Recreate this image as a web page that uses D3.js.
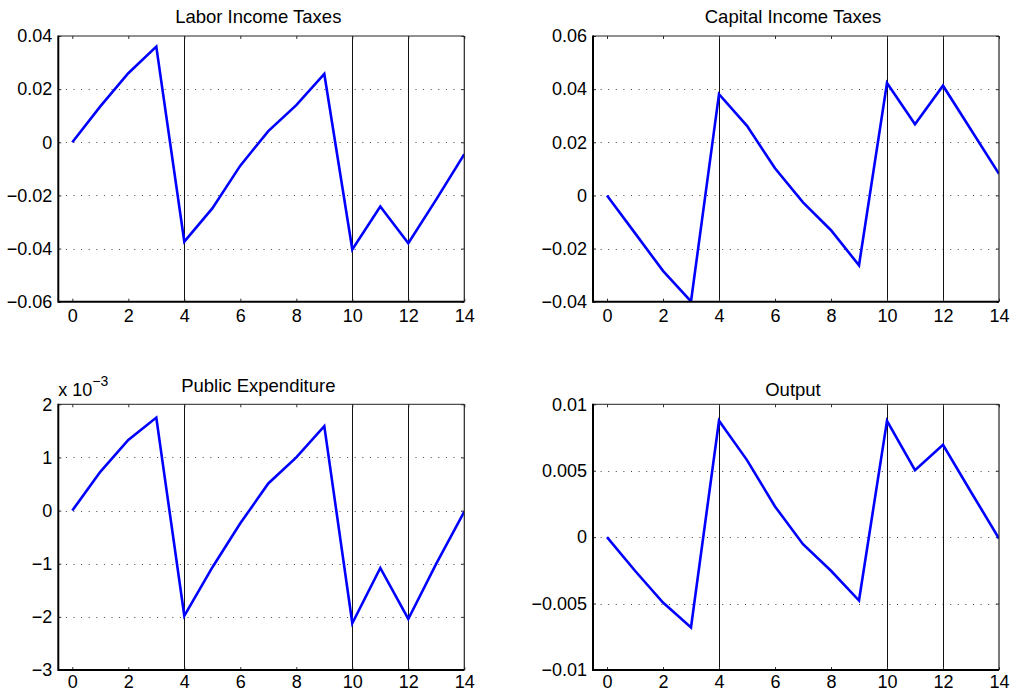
<!DOCTYPE html>
<html>
<head>
<meta charset="utf-8">
<script src="https://cdn.jsdelivr.net/npm/d3@7"></script>
<style>
  html, body { margin: 0; padding: 0; background: #fff; }
  svg { display: block; font-family: "Liberation Sans", Arial, Helvetica, sans-serif; }
</style>
</head>
<body>
<svg id="chart" width="1011" height="692"></svg>
<script>
// Periods on the horizontal axis
const periods = [0, 1, 2, 3, 4, 5, 6, 7, 8, 9, 10, 11, 12, 13, 14];

// Impulse responses, one array per panel
const laborIncomeTaxes = [0, 0.0135, 0.026, 0.036, -0.0374, -0.0249, -0.0088, 0.0042, 0.014, 0.0257, -0.0403, -0.0242, -0.038, -0.0215, -0.0045];
const capitalIncomeTaxes = [0, -0.0142, -0.0284, -0.0399, 0.0381, 0.0262, 0.0102, -0.0026, -0.0131, -0.0263, 0.0423, 0.0268, 0.0413, 0.0247, 0.0081];
const publicExpenditure = [0, 0.00073, 0.00133, 0.00175, -0.00198, -0.00107, -0.00024, 0.00051, 0.001, 0.00159, -0.00212, -0.00108, -0.00204, -0.001, -0.00002];
const output = [0, -0.00253, -0.00492, -0.0068, 0.00876, 0.0058, 0.00231, -0.00053, -0.00253, -0.00477, 0.00876, 0.00504, 0.00695, 0.0034, -0.0001];

// Shock dates marked with vertical lines
const shockPeriods = [4, 10, 12];

// Tick values
const xTicks = [0, 2, 4, 6, 8, 10, 12, 14];
const laborTicks = [-0.06, -0.04, -0.02, 0, 0.02, 0.04];
const capitalTicks = [-0.04, -0.02, 0, 0.02, 0.04, 0.06];
const publicTicks = [-0.003, -0.002, -0.001, 0, 0.001, 0.002];
const outputTicks = [-0.01, -0.005, 0, 0.005, 0.01];

const minus = s => s.replace("-", "\u2212");
const fmt2 = d => d === 0 ? "0" : minus(d3.format(".2f")(d));

const panels = [
  { title: "Labor Income Taxes", values: laborIncomeTaxes, ticks: laborTicks, fmt: fmt2,
    box: { x0: 58.3, x1: 464.3, y0: 36, y1: 301.7 }, titleY: 23, xPad: 7.5 },
  { title: "Capital Income Taxes", values: capitalIncomeTaxes, ticks: capitalTicks, fmt: fmt2,
    box: { x0: 593, x1: 999, y0: 36, y1: 301.7 }, titleY: 23, xPad: 7.5 },
  { title: "Public Expenditure", values: publicExpenditure, ticks: publicTicks,
    fmt: d => minus(d3.format("d")(Math.round(d / 1e-3))),
    exponent: "\u22123",
    box: { x0: 58.3, x1: 464.3, y0: 404.3, y1: 670 }, titleY: 392, xPad: 5.5 },
  { title: "Output", values: output, ticks: outputTicks,
    fmt: d => d === 0 ? "0" : minus(d3.format(".3~f")(d)),
    box: { x0: 593, x1: 999, y0: 404.3, y1: 670 }, titleY: 396, xPad: 5.5 }
];

const svg = d3.select("#chart");

panels.forEach((p, i) => {
  const b = p.box;
  const x = d3.scaleLinear().domain([-0.5, 14]).range([b.x0, b.x1]);
  const y = d3.scaleLinear().domain(d3.extent(p.ticks)).range([b.y1, b.y0]);
  const g = svg.append("g");

  // Clip region for the data line
  const clipId = "clip" + i;
  svg.append("clipPath").attr("id", clipId)
    .append("rect").attr("x", b.x0).attr("y", b.y0)
    .attr("width", b.x1 - b.x0).attr("height", b.y1 - b.y0);

  // Dotted horizontal grid
  g.selectAll(".grid").data(p.ticks.slice(1, -1)).join("line")
    .attr("x1", b.x0).attr("x2", b.x1)
    .attr("y1", d => Math.round(y(d)) + 0.5).attr("y2", d => Math.round(y(d)) + 0.5)
    .attr("stroke", "#444").attr("stroke-width", 1)
    .attr("stroke-dasharray", "1,6.6");

  // Shock markers
  g.selectAll(".shock").data(shockPeriods).join("line")
    .attr("x1", d => Math.round(x(d)) + 0.5).attr("x2", d => Math.round(x(d)) + 0.5)
    .attr("y1", b.y0).attr("y2", b.y1)
    .attr("stroke", "#111").attr("stroke-width", 1);

  // Bottom axis with inward ticks
  const xAxis = d3.axisBottom(x).tickValues(xTicks).tickSize(-3).tickPadding(p.xPad)
    .tickFormat(d3.format("d"));
  const gx = g.append("g").attr("transform", `translate(0,${b.y1})`).call(xAxis);
  gx.select(".domain").remove();
  gx.selectAll(".tick line").attr("stroke", "#333");
  gx.selectAll("text").attr("font-size", 18).attr("fill", "#000")
    .attr("font-family", "Liberation Sans, Arial, sans-serif");

  // Top inward ticks
  const gxt = g.append("g").attr("transform", `translate(0,${b.y0})`)
    .call(d3.axisTop(x).tickValues(xTicks).tickSize(-3).tickFormat(""));
  gxt.select(".domain").remove();
  gxt.selectAll(".tick line").attr("stroke", "#333");

  // Left axis with inward ticks
  const yAxis = d3.axisLeft(y).tickValues(p.ticks).tickSize(-3).tickPadding(6)
    .tickFormat(p.fmt);
  const gy = g.append("g").attr("transform", `translate(${b.x0},0)`).call(yAxis);
  gy.select(".domain").remove();
  gy.selectAll(".tick line").attr("stroke", "#333");
  gy.selectAll("text").attr("font-size", 18).attr("fill", "#000")
    .attr("font-family", "Liberation Sans, Arial, sans-serif");

  // Right inward ticks
  const gyr = g.append("g").attr("transform", `translate(${b.x1},0)`)
    .call(d3.axisRight(y).tickValues(p.ticks).tickSize(-3).tickFormat(""));
  gyr.select(".domain").remove();
  gyr.selectAll(".tick line").attr("stroke", "#333");

  // Data line
  const line = d3.line().x((d, k) => x(periods[k])).y(d => y(d));
  g.append("path").datum(p.values)
    .attr("clip-path", `url(#${clipId})`)
    .attr("d", line)
    .attr("fill", "none").attr("stroke", "#0000ff")
    .attr("stroke-width", 2.6).attr("stroke-linejoin", "miter");

  // Axes box: heavier left and bottom edges
  g.append("line").attr("x1", b.x0).attr("x2", b.x1).attr("y1", b.y0).attr("y2", b.y0)
    .attr("stroke", "#222").attr("stroke-width", 1);
  g.append("line").attr("x1", b.x1).attr("x2", b.x1).attr("y1", b.y0).attr("y2", b.y1)
    .attr("stroke", "#222").attr("stroke-width", 1.2);
  g.append("line").attr("x1", b.x0).attr("x2", b.x0).attr("y1", b.y0 - 0.5).attr("y2", b.y1 + 1)
    .attr("stroke", "#000").attr("stroke-width", 2);
  g.append("line").attr("x1", b.x0).attr("x2", b.x1).attr("y1", b.y1).attr("y2", b.y1)
    .attr("stroke", "#000").attr("stroke-width", 2);

  // Title
  g.append("text").attr("x", (b.x0 + b.x1) / 2 - 3).attr("y", p.titleY)
    .attr("text-anchor", "middle").attr("font-size", 18.5).attr("fill", "#000")
    .text(p.title);

  // Axis exponent label
  if (p.exponent) {
    const t = g.append("text").attr("x", b.x0).attr("y", b.y0 - 8)
      .attr("font-size", 18).attr("fill", "#000");
    t.append("tspan").text("x 10");
    t.append("tspan").attr("dy", -10).attr("font-size", 14).text(p.exponent);
  }
});
</script>
</body>
</html>
